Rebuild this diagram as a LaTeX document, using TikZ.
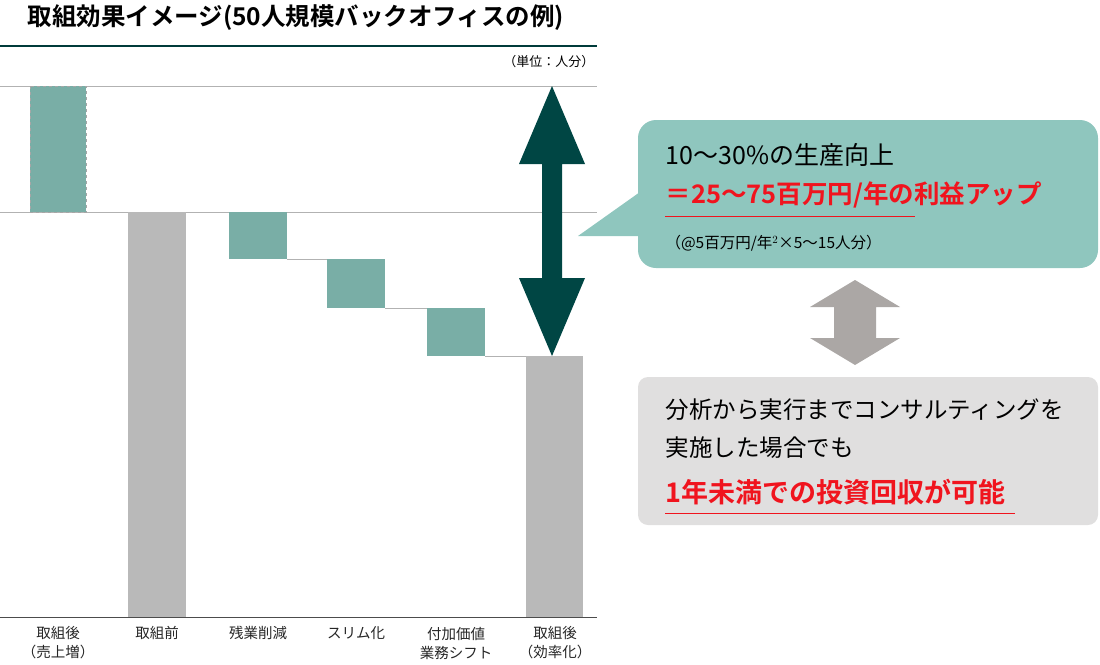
\documentclass[tikz,border=0pt]{standalone}
\usepackage{fontspec}
\setmainfont{Noto Sans CJK JP}
\newfontfamily\jpb{Noto Sans CJK JP Bold}
\usetikzlibrary{arrows.meta}
\definecolor{tealbar}{HTML}{79AEA6}
\definecolor{graybar}{HTML}{B9B9B9}
\definecolor{darkteal}{HTML}{004644}
\definecolor{callout}{HTML}{8FC6BE}
\definecolor{lightbox}{HTML}{E0DFDF}
\definecolor{garrow}{HTML}{ABA7A5}
\definecolor{redtxt}{HTML}{F0141E}
\tikzset{
 lab/.style={font=\fontsize{14.5}{19}\selectfont, align=center, text=black!85},
 grid/.style={draw=black!30, line width=0.8},
}
\begin{document}
\begin{tikzpicture}[x=1pt,y=-1pt]
\useasboundingbox (0,0) rectangle (1100,664);
\node[anchor=west, font=\jpb\fontsize{24.5}{28}\selectfont] (title) at (24,18) {取組効果イメージ(50人規模バックオフィスの例)};
\draw[darkteal!85!black, line width=1.2] (0,46) -- (597,46);
\node[anchor=east, font=\fontsize{13}{15}\selectfont] (unit) at (598,62) {（単位：人分）};
\draw[grid] (0,86) -- (597,86);
\draw[grid] (0,212) -- (597,212);
\draw[black!70, line width=1] (0,617) -- (597,617);
% bars
\fill[tealbar] (30,86) rectangle (86,212);
\draw[black!35, dashed, line width=1] (30,86) rectangle (86,212);
\fill[graybar] (128,212) rectangle (186,617);
\fill[tealbar] (229,212) rectangle (287,259);
\fill[tealbar] (327,259) rectangle (385,308);
\fill[tealbar] (427,308) rectangle (485,356);
\fill[graybar] (526,356) rectangle (583,617);
\draw[grid] (287,259) -- (327,259);
\draw[grid] (385,308) -- (427,308);
\draw[grid] (485,356) -- (526,356);
% big arrow
\fill[darkteal] (552,86) -- (585,164) -- (562,164) -- (562,278) -- (585,278) -- (552,356) -- (519,278) -- (542,278) -- (542,164) -- (519,164) -- cycle;
% callout
\fill[callout, rounded corners=18] (638,120) rectangle (1098,268);
\fill[callout] (640,192) -- (578,236) -- (640,236) -- cycle;
\node[anchor=west, font=\fontsize{25}{28}\selectfont] (c1) at (662,155) {10～30\%の生産向上};
\node[anchor=west, font=\jpb\fontsize{25.5}{28}\selectfont, text=redtxt] (c2) at (662,195) {＝25～75百万円/年の利益アップ};
\draw[redtxt, line width=1] (665,216) -- (915,216);
\node[anchor=west, font=\fontsize{15.5}{18}\selectfont] (c3) at (662,243) {（@5百万円/年$^{2}$×5～15人分）};
% gray double arrow
\fill[garrow] (855,280) -- (900,307) -- (876,307) -- (876,338) -- (900,338) -- (855,365) -- (810,338) -- (834,338) -- (834,307) -- (810,307) -- cycle;
% box 2
\fill[lightbox, rounded corners=10] (638,377) rectangle (1098,525);
\node[anchor=west, font=\fontsize{23.5}{26}\selectfont] (d1) at (662,410) {分析から実行までコンサルティングを};
\node[anchor=west, font=\fontsize{23.5}{26}\selectfont] (d2) at (662,448) {実施した場合でも};
\node[anchor=west, font=\jpb\fontsize{27}{30}\selectfont, text=redtxt] (d3) at (662,492) {1年未満での投資回収が可能};
\draw[redtxt, line width=1] (665,513) -- (1015,513);
% labels
\node[lab] (l1) at (58,643) {取組後\\（売上増）};
\node[lab, anchor=north] (l2) at (157,623) {取組前};
\node[lab, anchor=north] (l3) at (258,623) {残業削減};
\node[lab, anchor=north] (l4) at (356,623) {スリム化};
\node[lab] (l5) at (456,643) {付加価値\\業務シフト};
\node[lab] (l6) at (555,643) {取組後\\（効率化）};
\end{tikzpicture}
\end{document}
